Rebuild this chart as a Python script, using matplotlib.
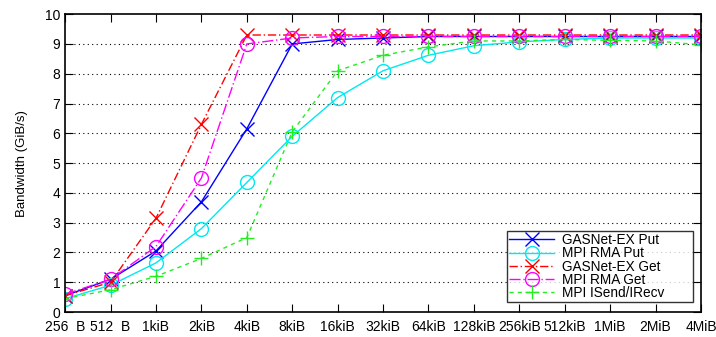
import matplotlib
matplotlib.use("Agg")
import matplotlib.pyplot as plt

plt.rcParams['font.family'] = ['Liberation Sans', 'DejaVu Sans']

sizes = ["256  B", "512  B", "1kiB", "2kiB", "4kiB", "8kiB", "16kiB", "32kiB",
         "64kiB", "128kiB", "256kiB", "512kiB", "1MiB", "2MiB", "4MiB"]

gasnet_put = [0.55, 1.1, 2.05, 3.7, 6.15, 9.0, 9.15, 9.2, 9.25, 9.25, 9.25, 9.25, 9.25, 9.25, 9.25]
mpi_rma_put = [0.45, 0.9, 1.65, 2.8, 4.35, 5.9, 7.2, 8.1, 8.62, 8.94, 9.07, 9.15, 9.2, 9.2, 9.2]
gasnet_get = [0.55, 1.0, 3.15, 6.3, 9.3, 9.3, 9.3, 9.3, 9.3, 9.3, 9.3, 9.3, 9.3, 9.3, 9.3]
mpi_rma_get = [0.6, 1.1, 2.2, 4.5, 9.0, 9.2, 9.25, 9.25, 9.25, 9.25, 9.25, 9.25, 9.25, 9.25, 9.25]
mpi_isend = [0.45, 0.75, 1.2, 1.8, 2.5, 6.05, 8.1, 8.62, 8.9, 9.1, 9.1, 9.15, 9.12, 9.1, 8.97]

x = list(range(len(sizes)))

fig = plt.figure(figsize=(7.16, 3.37), dpi=100)
ax = fig.add_axes([0.091, 0.074, 0.888, 0.884])

ax.plot(x, gasnet_put, color='#0000ff', ls='-', lw=1, marker='x', ms=10, mew=1, label='GASNet-EX Put')
ax.plot(x, mpi_rma_put, color='#00e8f0', ls='-', lw=1, marker='o', ms=10, mew=1, mfc='none', label='MPI RMA Put')
ax.plot(x, gasnet_get, color='#ff0000', ls=(0, (6, 2, 1, 2)), lw=1, marker='x', ms=10, mew=1, label='GASNet-EX Get')
ax.plot(x, mpi_rma_get, color='#ff00ff', ls=(0, (8, 2, 1, 2)), lw=1, marker='o', ms=10, mew=1, mfc='none', label='MPI RMA Get')
ax.plot(x, mpi_isend, color='#22ee22', ls=(0, (3, 3)), lw=1, marker='+', ms=10, mew=1, label='MPI ISend/IRecv')

ax.set_xlim(0, len(sizes) - 1)
ax.set_ylim(0, 10)
ax.set_xticks(x)
ax.set_xticklabels(sizes)
ax.set_yticks(range(0, 11))
ax.tick_params(direction='in', length=6, top=True, right=True, labelsize=10)
ax.tick_params(axis='x', pad=6)
for v in range(1, 10):
    ax.axhline(v, color='black', ls=(0, (1, 3)), lw=0.8, zorder=0)
for s in ax.spines.values():
    s.set_linewidth(1.2)
ax.set_ylabel("Bandwidth (GiB/s)", fontsize=9.5, labelpad=12)

leg = ax.legend(loc='lower left', bbox_to_anchor=(0.695, 0.034, 0.292, 0.2), mode='expand',
                fontsize=9.8, frameon=True, fancybox=False,
                handlelength=3.3, borderpad=0.15, labelspacing=-0.06, handletextpad=0.6,
                borderaxespad=0)
leg.get_frame().set_edgecolor('black')
leg.get_frame().set_linewidth(1)

fig.savefig("out.png", dpi=100)
